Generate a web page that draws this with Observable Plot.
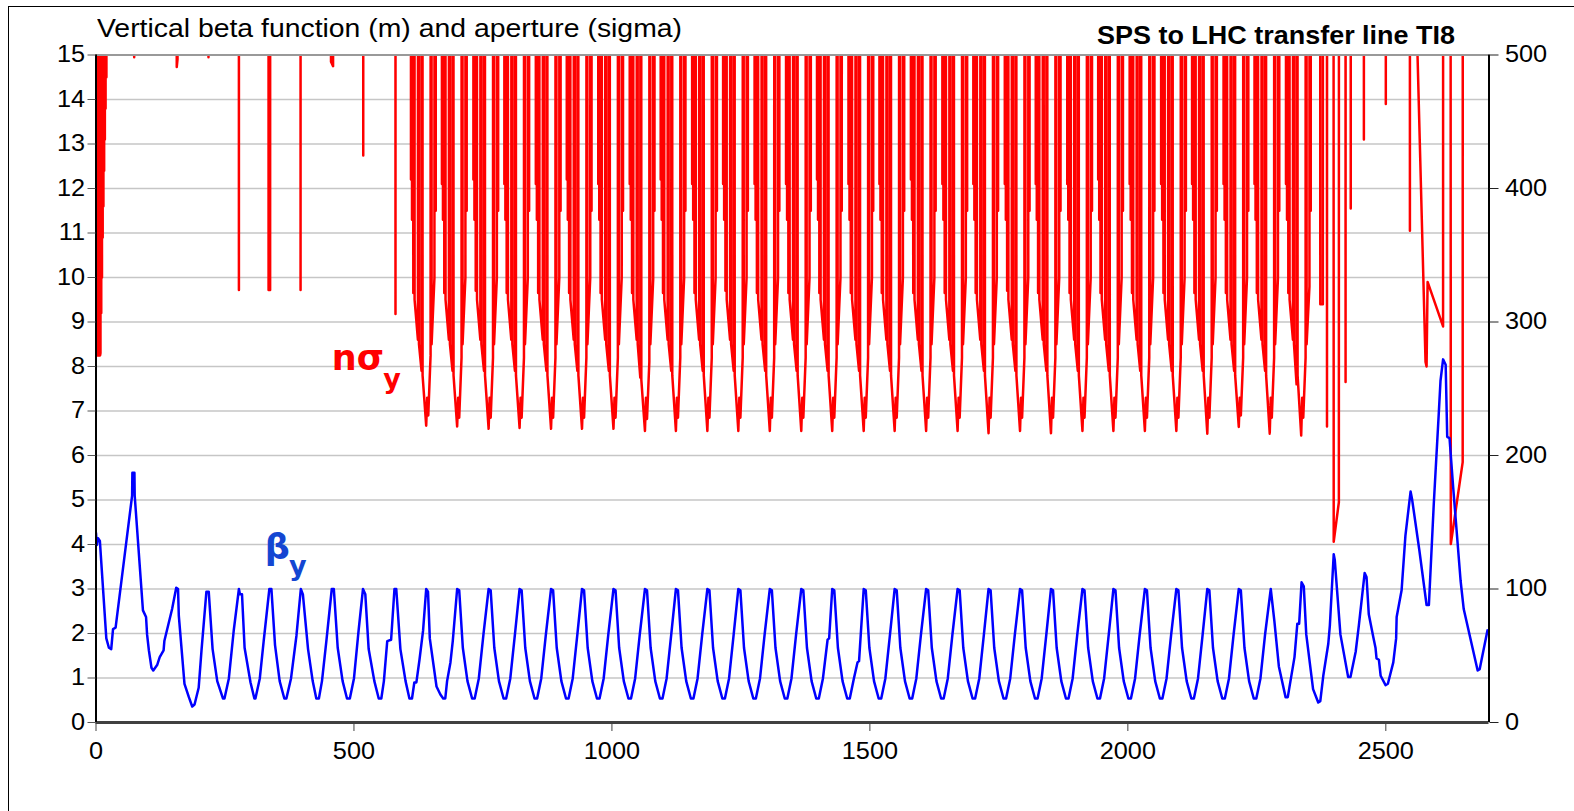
<!DOCTYPE html>
<html><head><meta charset="utf-8">
<script src="https://cdn.jsdelivr.net/npm/d3@7"></script>
<script src="https://cdn.jsdelivr.net/npm/@observablehq/plot@0.6"></script>
<style>
html,body{margin:0;padding:0;background:#fff;overflow:hidden;}
#wrap{position:relative;width:1574px;height:811px;overflow:hidden;font-family:"Liberation Sans",Arial,sans-serif;background:#fff;}
#frame{position:absolute;left:8px;top:6px;width:1700px;height:900px;border:1.5px solid #000;box-sizing:border-box;pointer-events:none;z-index:3;}
#chart{position:absolute;left:0;top:44px;z-index:1;}
.ttl{position:absolute;white-space:nowrap;line-height:25px;font-size:25px;transform-origin:0 50%;z-index:2;color:#000;}
#title{left:97px;top:16px;}
#subtitle{left:1097px;top:23px;font-weight:bold;}
</style>
</head><body>
<div id="wrap">
  <div id="chart"></div>
  <div id="title" class="ttl">Vertical beta function (m) and aperture (sigma)</div>
  <div id="subtitle" class="ttl">SPS to LHC transfer line TI8</div>
  <div id="frame"></div>
</div>
<script>
// ---------- data ----------
const xTicks = [0, 500, 1000, 1500, 2000, 2500];
const sigmaTicks = [0,1,2,3,4,5,6,7,8,9,10,11,12,13,14,15];
const betaTicks = [0, 100, 200, 300, 400, 500];
const gridValues = [1,2,3,4,5,6,7,8,9,10,11,12,13,14];
const sigmaMax = 15, betaMax = 500;

// vertical beta function [s (m), beta_y (m)]
const betaY = [
[0,142],[1.5,133],[4,138],[7.5,136],[20,63],[25,56],[29.5,55],[33,70],[38,71],[70,170],[70.5,187],[74.5,187],[75,170],[91,84],[97,79],[99,66],[102.5,54],[107.5,41],[111,39],[118.5,43],[123.5,49],[131,54],[132.5,61],[147.5,85],[155.5,101],[159,100],[160.5,80],[171.5,29],[180,19],[186.5,12],[191,13.5],[199,26],[204.5,54],[214,98],[218.5,98],[226,55],[235,31],[246,18],[249,18],[257.5,33],[267,69],[277,100],[279,96],[283,96],[288,56],[299.5,30],[307,18],[309,18],[317.5,33],[325,61],[336,100],[340,100],[347,58],[356,31],[365,18],[369,18],[378,33],[388.5,65],[397,100],[401,96],[411,55],[420,31],[427,18],[432,18],[438,31],[446.5,61],[457,100],[461,100],[468.5,56],[478,31],[486.5,18],[492,18],[500,33],[509,69],[517.5,100],[522,96],[528.5,55],[539.5,31],[548,18],[553,18],[558,31],[564.5,61],[572,62],[578.5,100],[582,100],[590,55],[600,31],[607.5,18],[612.5,18],[617,30],[621,30],[627,47],[634,69],[640,100],[643.5,98],[647,63],[660,27],[667.5,21],[673,18],[677,18],[680.5,31],[687,45],[691.5,61],
[700,100],[704,99],[711,56],[720,31],[729,18],[734,18],[742,33],[751,66],
[761,100],[765,99],[772,56],[781,31],[790,18],[795,18],[803,33],[812,66],
[821,100],[825,99],[832,56],[841,31],[850,18],[855,18],[863,33],[872,66],
[882,100],[886,99],[893,56],[902,31],[911,18],[916,18],[924,33],[933,66],
[942,100],[946,99],[953,56],[962,31],[971,18],[976,18],[984,33],[993,66],
[1003,100],[1007,99],[1014,56],[1023,31],[1032,18],[1037,18],[1045,33],[1054,66],
[1064,100],[1068,99],[1075,56],[1084,31],[1093,18],[1098,18],[1106,33],[1115,66],
[1124,100],[1128,99],[1135,56],[1144,31],[1153,18],[1158,18],[1166,33],[1175,66],
[1185,100],[1189,99],[1196,56],[1205,31],[1214,18],[1219,18],[1227,33],[1236,66],
[1245,100],[1249,99],[1256,56],[1265,31],[1274,18],[1279,18],[1287,33],[1296,66],
[1306,100],[1310,99],[1317,56],[1326,31],[1335,18],[1340,18],[1348,33],[1357,66],
[1367,100],[1371,99],[1378,56],[1387,31],[1396,18],[1401,18],[1409,33],[1418,62],[1421,63],
[1427,100],[1431,99],[1438,56],[1447,31],[1456,18],[1461,18],[1469,33],[1476,45],[1479,46],
[1488,100],[1492,99],[1499,56],[1508,31],[1517,18],[1522,18],[1530,33],[1539,66],
[1548,100],[1552,99],[1559,56],[1568,31],[1577,18],[1582,18],[1590,33],[1599,66],
[1609,100],[1613,99],[1620,56],[1629,31],[1638,18],[1643,18],[1651,33],[1660,66],
[1670,100],[1674,99],[1681,56],[1690,31],[1699,18],[1704,18],[1712,33],[1721,66],
[1730,100],[1734,99],[1741,56],[1750,31],[1759,18],[1764,18],[1772,33],[1781,66],
[1791,100],[1795,99],[1802,56],[1811,31],[1820,18],[1825,18],[1833,33],[1842,66],
[1851,100],[1855,99],[1862,56],[1871,31],[1880,18],[1885,18],[1893,33],[1902,66],
[1912,100],[1916,99],[1923,56],[1932,31],[1941,18],[1946,18],[1954,33],[1963,66],
[1972,100],[1976,99],[1983,56],[1992,31],[2001,18],[2006,18],[2014,33],[2023,66],
[2033,100],[2037,99],[2044,56],[2053,31],[2062,18],[2067,18],[2075,33],[2084,66],
[2094,100],[2098,99],[2105,56],[2114,31],[2123,18],[2128,18],[2136,33],[2145,66],
[2154,100],[2158,99],[2165,56],[2174,31],[2183,18],[2188,18],[2196,33],[2205,66],
[2215,100],[2219,99],[2226,56],[2235,31],[2244,18],[2249,18],[2257,33],[2266,66],
[2277,100],[2284,76],[2292.7,42],[2305.7,19],[2310,19],[2323,49],[2328.5,74],[2332,74],[2336.7,105],[2341,102],[2345.8,66],[2359,25],[2369,15],[2373,16],[2378.8,35],[2388.5,59],[2391.6,73],[2399,126],[2401,122],[2412,66],[2427,34],[2431.5,34],[2441.6,53],[2447.8,73],[2459,112],[2462.6,109],[2467,81],[2475.7,64],[2480,56],[2482,48],[2486.6,47],[2490,35],[2499.5,28],[2504,29],[2514.5,45],[2520,63],[2521,79],[2530.6,99],[2538,140],[2548,173],[2551,167],[2565,129],[2579,88],[2583.5,88],[2593,164],[2603,234],[2606,256],[2611,272],[2616,268],[2619,214],[2623.5,213],[2630.6,176],[2645,106],[2651,85],[2678,39],[2682,40],[2697,69]
];

// vertical aperture in sigma [s (m), n_sigma]; 99 = open drift (off scale)
const apertureY = [
[0,99],[0.5,8.25],[1.2,99],[2,8.25],[2.7,99],[3.5,8.25],[4.2,99],[5,8.25],[5.7,99],[6.5,8.25],[7.2,99],[8,8.25],[8.7,8.3],[9.4,99],[10.2,9.2],[10.9,99],[11.6,10.0],[12.3,99],[13,10.9],[13.7,99],[14.4,11.6],[15.1,99],[15.8,12.4],[16.5,99],[17.2,13.1],[17.9,99],[18.6,13.8],[19.3,99],[20.2,14.5],[21,99],
[73.5,99],[74,14.95],[74.5,99],[155,99],[156.5,14.73],[158,14.9],[159,99],[217.5,99],[218,14.95],[218.5,99],
[276.5,99],[277,9.72],[277.5,99],[333.5,99],[334.5,9.72],[337.5,9.72],[338.5,99],[396,99],[396.5,9.72],[397,99],
[454.5,99],[455.5,14.85],[459.5,14.75],[460,99],[517.5,99],[518,12.74],[518.5,99],[580,99],[580.5,9.18],[581,99],
[610,99],[610.5,12.2],[611.5,99],[612.5,11.3],[613.5,99],[615,9.65],[616.5,99],[617.5,9.5],[624,8.6],[625,99],[626,8.5],[631,7.9],[632,99],[633,7.8],[640,6.67],[642,7.3],[644,6.9],[648.5,8.25],[649.5,99],[650.5,8.5],[656,10],[657,99],[658.5,11.5],[659.5,99],
[670,99],[670.5,12.1],[671.5,99],[672.5,11.3],[673.5,99],[675,9.65],[676.5,99],[677.5,9.5],[684,8.6],[685,99],[686,8.5],[691,7.9],[692,99],[693,7.8],[700,6.65],[702,7.3],[704,6.85],[708.5,8.2],[709.5,99],[710.5,8.5],[716,10],[717,99],[718.5,11.5],[719.5,99],
[731,99],[731.5,12.2],[732.5,99],[733.5,11.3],[734.5,99],[736,9.7],[737.5,99],[738.5,9.5],[745,8.6],[746,99],[747,8.5],[752,7.9],[753,99],[754,7.8],[761,6.6],[763,7.3],[765,6.85],[769.5,8.2],[770.5,99],[771.5,8.5],[777,10],[778,99],[779.5,11.5],[780.5,99],
[791,99],[791.5,12.1],[792.5,99],[793.5,11.3],[794.5,99],[796,9.65],[797.5,99],[798.5,9.5],[805,8.6],[806,99],[807,8.5],[812,7.9],[813,99],[814,7.8],[821,6.62],[823,7.3],[825,6.85],[829.5,8.2],[830.5,99],[831.5,8.5],[837,10],[838,99],[839.5,11.5],[840.5,99],
[852,99],[852.5,12.1],[853.5,99],[854.5,11.3],[855.5,99],[857,9.65],[858.5,99],[859.5,9.5],[866,8.6],[867,99],[868,8.5],[873,7.9],[874,99],[875,7.8],[882,6.6],[884,7.3],[886,6.85],[890.5,8.2],[891.5,99],[892.5,8.5],[898,10],[899,99],[900.5,11.5],[901.5,99],
[912,99],[912.5,12.2],[913.5,99],[914.5,11.3],[915.5,99],[917,9.65],[918.5,99],[919.5,9.5],[926,8.6],[927,99],[928,8.5],[933,7.9],[934,99],[935,7.8],[942,6.6],[944,7.3],[946,6.85],[950.5,8.2],[951.5,99],[952.5,8.5],[958,10],[959,99],[960.5,11.5],[961.5,99],
[973,99],[973.5,12.1],[974.5,99],[975.5,11.3],[976.5,99],[978,9.65],[979.5,99],[980.5,9.5],[987,8.6],[988,99],[989,8.5],[994,7.9],[995,99],[996,7.8],[1003,6.6],[1005,7.3],[1007,6.85],[1011.5,8.2],[1012.5,99],[1013.5,8.5],[1019,10],[1020,99],[1021.5,11.5],[1022.5,99],
[1034,99],[1034.5,12.1],[1035.5,99],[1036.5,11.3],[1037.5,99],[1039,9.65],[1040.5,99],[1041.5,9.5],[1048,8.6],[1049,99],[1050,8.5],[1055,7.75],[1056,99],[1057,7.7],[1064,6.55],[1066,7.3],[1068,6.82],[1072.5,8.1],[1073.5,99],[1074.5,8.5],[1080,9.97],[1081,99],[1082.5,11.5],[1083.5,99],
[1094,99],[1094.5,12.2],[1095.5,99],[1096.5,11.3],[1097.5,99],[1099,9.65],[1100.5,99],[1101.5,9.5],[1108,8.6],[1109,99],[1110,8.5],[1115,7.9],[1116,99],[1117,7.8],[1124,6.55],[1126,7.3],[1128,6.85],[1132.5,8.2],[1133.5,99],[1134.5,8.5],[1140,10],[1141,99],[1142.5,11.5],[1143.5,99],
[1155,99],[1155.5,12.1],[1156.5,99],[1157.5,11.3],[1158.5,99],[1160,9.65],[1161.5,99],[1162.5,9.5],[1169,8.6],[1170,99],[1171,8.5],[1176,7.9],[1177,99],[1178,7.8],[1185,6.55],[1187,7.3],[1189,6.85],[1193.5,8.2],[1194.5,99],[1195.5,8.5],[1201,10],[1202,99],[1203.5,11.5],[1204.5,99],
[1215,99],[1215.5,12.1],[1216.5,99],[1217.5,11.3],[1218.5,99],[1220,9.7],[1221.5,99],[1222.5,9.5],[1229,8.6],[1230,99],[1231,8.5],[1236,7.9],[1237,99],[1238,7.8],[1245,6.55],[1247,7.3],[1249,6.85],[1253.5,8.2],[1254.5,99],[1255.5,8.5],[1261,10],[1262,99],[1263.5,11.5],[1264.5,99],
[1276,99],[1276.5,12.1],[1277.5,99],[1278.5,11.3],[1279.5,99],[1281,9.65],[1282.5,99],[1283.5,9.5],[1290,8.6],[1291,99],[1292,8.5],[1297,7.9],[1298,99],[1299,7.8],[1306,6.55],[1308,7.3],[1310,6.85],[1314.5,8.2],[1315.5,99],[1316.5,8.5],[1322,10],[1323,99],[1324.5,11.5],[1325.5,99],
[1337,99],[1337.5,12.1],[1338.5,99],[1339.5,11.3],[1340.5,99],[1342,9.65],[1343.5,99],[1344.5,9.5],[1351,8.6],[1352,99],[1353,8.5],[1358,7.9],[1359,99],[1360,7.8],[1367,6.55],[1369,7.3],[1371,6.85],[1375.5,8.2],[1376.5,99],[1377.5,8.5],[1383,10],[1384,99],[1385.5,11.5],[1386.5,99],
[1397,99],[1397.5,12.2],[1398.5,99],[1399.5,11.3],[1400.5,99],[1402,9.65],[1403.5,99],[1404.5,9.5],[1411,8.6],[1412,99],[1413,8.5],[1418,7.9],[1419,99],[1420,7.8],[1427,6.55],[1429,7.3],[1431,6.85],[1435.5,8.2],[1436.5,99],[1437.5,8.5],[1443,10],[1444,99],[1445.5,11.5],[1446.5,99],
[1458,99],[1458.5,12.1],[1459.5,99],[1460.5,11.3],[1461.5,99],[1463,9.65],[1464.5,99],[1465.5,9.5],[1472,8.6],[1473,99],[1474,8.5],[1479,7.9],[1480,99],[1481,7.8],[1488,6.55],[1490,7.3],[1492,6.85],[1496.5,8.2],[1497.5,99],[1498.5,8.5],[1504,10],[1505,99],[1506.5,11.5],[1507.5,99],
[1518,99],[1518.5,12.1],[1519.5,99],[1520.5,11.3],[1521.5,99],[1523,9.65],[1524.5,99],[1525.5,9.5],[1532,8.6],[1533,99],[1534,8.5],[1539,7.9],[1540,99],[1541,7.8],[1548,6.55],[1550,7.3],[1552,6.85],[1556.5,8.2],[1557.5,99],[1558.5,8.5],[1564,10],[1565,99],[1566.5,11.5],[1567.5,99],
[1579,99],[1579.5,12.2],[1580.5,99],[1581.5,11.3],[1582.5,99],[1584,9.65],[1585.5,99],[1586.5,9.5],[1593,8.6],[1594,99],[1595,8.5],[1600,7.9],[1601,99],[1602,7.8],[1609,6.55],[1611,7.3],[1613,6.85],[1617.5,8.2],[1618.5,99],[1619.5,8.5],[1625,10],[1626,99],[1627.5,11.5],[1628.5,99],
[1640,99],[1640.5,12.1],[1641.5,99],[1642.5,11.3],[1643.5,99],[1645,9.65],[1646.5,99],[1647.5,9.5],[1654,8.6],[1655,99],[1656,8.5],[1661,7.9],[1662,99],[1663,7.8],[1670,6.55],[1672,7.3],[1674,6.85],[1678.5,8.2],[1679.5,99],[1680.5,8.5],[1686,10],[1687,99],[1688.5,11.5],[1689.5,99],
[1700,99],[1700.5,12.1],[1701.5,99],[1702.5,11.3],[1703.5,99],[1705,9.65],[1706.5,99],[1707.5,9.5],[1714,8.6],[1715,99],[1716,8.5],[1721,7.9],[1722,99],[1723,7.8],[1730,6.5],[1732,7.3],[1734,6.85],[1738.5,8.2],[1739.5,99],[1740.5,8.5],[1746,10],[1747,99],[1748.5,11.5],[1749.5,99],
[1761,99],[1761.5,12.1],[1762.5,99],[1763.5,11.3],[1764.5,99],[1766,9.7],[1767.5,99],[1768.5,9.5],[1775,8.6],[1776,99],[1777,8.5],[1782,7.9],[1783,99],[1784,7.8],[1791,6.55],[1793,7.3],[1795,6.85],[1799.5,8.2],[1800.5,99],[1801.5,8.5],[1807,10],[1808,99],[1809.5,11.5],[1810.5,99],
[1821,99],[1821.5,12.1],[1822.5,99],[1823.5,11.3],[1824.5,99],[1826,9.65],[1827.5,99],[1828.5,9.5],[1835,8.6],[1836,99],[1837,8.5],[1842,7.9],[1843,99],[1844,7.8],[1851,6.5],[1853,7.3],[1855,6.85],[1859.5,8.2],[1860.5,99],[1861.5,8.5],[1867,10],[1868,99],[1869.5,11.5],[1870.5,99],
[1882,99],[1882.5,12.1],[1883.5,99],[1884.5,11.3],[1885.5,99],[1887,9.65],[1888.5,99],[1889.5,9.5],[1896,8.6],[1897,99],[1898,8.5],[1903,7.9],[1904,99],[1905,7.8],[1912,6.55],[1914,7.3],[1916,6.85],[1920.5,8.2],[1921.5,99],[1922.5,8.5],[1928,10],[1929,99],[1930.5,11.5],[1931.5,99],
[1942,99],[1942.5,12.2],[1943.5,99],[1944.5,11.3],[1945.5,99],[1947,9.65],[1948.5,99],[1949.5,9.5],[1956,8.6],[1957,99],[1958,8.5],[1963,7.9],[1964,99],[1965,7.8],[1972,6.55],[1974,7.3],[1976,6.85],[1980.5,8.2],[1981.5,99],[1982.5,8.5],[1988,10],[1989,99],[1990.5,11.5],[1991.5,99],
[2003,99],[2003.5,12.1],[2004.5,99],[2005.5,11.3],[2006.5,99],[2008,9.65],[2009.5,99],[2010.5,9.5],[2017,8.6],[2018,99],[2019,8.5],[2024,7.9],[2025,99],[2026,7.8],[2033,6.55],[2035,7.3],[2037,6.85],[2041.5,8.2],[2042.5,99],[2043.5,8.5],[2049,10],[2050,99],[2051.5,11.5],[2052.5,99],
[2064,99],[2064.5,12.1],[2065.5,99],[2066.5,11.3],[2067.5,99],[2069,9.65],[2070.5,99],[2071.5,9.5],[2078,8.6],[2079,99],[2080,8.5],[2085,7.9],[2086,99],[2087,7.8],[2094,6.55],[2096,7.3],[2098,6.85],[2102.5,8.2],[2103.5,99],[2104.5,8.5],[2110,10],[2111,99],[2112.5,11.5],[2113.5,99],
[2124,99],[2124.5,12.1],[2125.5,99],[2126.5,11.3],[2127.5,99],[2129,9.65],[2130.5,99],[2131.5,9.5],[2138,8.6],[2139,99],[2140,8.5],[2145,7.9],[2146,99],[2147,7.8],[2154,6.49],[2156,7.3],[2158,6.85],[2162.5,8.2],[2163.5,99],[2164.5,8.5],[2170,10],[2171,99],[2172.5,11.5],[2173.5,99],
[2185,99],[2185.5,12.1],[2186.5,99],[2187.5,11.3],[2188.5,99],[2190,9.65],[2191.5,99],[2192.5,9.5],[2199,8.6],[2200,99],[2201,8.5],[2206,7.9],[2207,99],[2208,7.8],[2215,6.64],[2217,7.3],[2219,6.9],[2223.5,8.2],[2224.5,99],[2225.5,8.5],[2231,10],[2232,99],[2233.5,11.5],[2234.5,99],
[2245,99],[2245.5,12.1],[2246.5,99],[2247.5,11.3],[2248.5,99],[2250,9.65],[2251.5,99],[2252.5,9.5],[2259,8.6],[2260,99],[2261,8.5],[2266,7.9],[2267,99],[2268,7.8],[2275,6.49],[2277,7.3],[2279,6.85],[2283.5,8.2],[2284.5,99],[2285.5,8.5],[2291,10],[2292,99],[2293.5,11.5],[2294.5,99],
[2306,99],[2306.5,12.1],[2307.5,99],[2308.5,11.3],[2309.5,99],[2311,9.65],[2312.5,99],[2313.5,9.5],[2320,8.6],[2321,99],[2322,8.5],[2327,7.6],[2328,99],[2329,7.8],[2336,6.45],[2338,7.3],[2340,6.85],[2344.5,8.2],[2345.5,99],[2346.5,8.5],[2352,9.8],[2353,99],[2354.5,11.5],[2355.5,99],
[2372,99],[2373,9.4],[2378,9.4],[2379,99],[2385,99],[2386,6.65],[2387,99],[2397,99],[2399,4.06],[2409,4.95],[2410,99],[2421,99],[2422,7.65],[2423,99],[2431,99],[2432,11.55],[2433,99],
[2457,99],[2457.5,13.1],[2458,99],[2499.5,99],[2500,13.9],[2500.5,99],[2546,99],[2546.7,11.05],[2547.3,99],
[2560,99],[2561,15.2],[2577,8.1],[2579,8.0],[2581,9.9],[2611,8.9],[2611.5,99],[2623,99],[2626,4.01],[2649,5.85],[2650,99],[2700,99]
];

// in-plot series labels (data coordinates: s in m, value in sigma units)
const seriesLabels = [
  {s: 457, v: 8.18, text: "nσ", color: "#ff0000"},
  {s: 327, v: 3.92, text: "β", color: "#1446d2"}
];
const subscriptLabels = [
  {s: 557, v: 7.72, text: "y", color: "#ff0000"},
  {s: 374, v: 3.52, text: "y", color: "#1446d2"}
];

// ---------- chart ----------
const toSigma = b => b * sigmaMax / betaMax;

const chart = Plot.plot({
  width: 1574,
  height: 767,
  marginTop: 10.5,
  marginBottom: 89,
  marginLeft: 95.5,
  marginRight: 85.5,
  style: {fontFamily: "'Liberation Sans', Arial, sans-serif", fontSize: "23px", background: "transparent", color: "#000", overflow: "visible"},
  x: {domain: [0, 2700]},
  y: {domain: [0, sigmaMax]},
  marks: [
    Plot.gridY(gridValues, {stroke: "#c6c6c6", strokeOpacity: 1, strokeWidth: 1.5}),
    Plot.line(apertureY, {x: d => d[0], y: d => d[1], stroke: "#ff0000", strokeWidth: 2.5, clip: true}),
    Plot.line(betaY, {x: d => d[0], y: d => toSigma(d[1]), stroke: "#0000ff", strokeWidth: 2.5, clip: true}),
    Plot.ruleY([sigmaMax], {stroke: "#999999", strokeWidth: 2}),
    Plot.ruleY([0], {stroke: "#404040", strokeWidth: 3}),
    Plot.ruleX([0], {stroke: "#000", strokeWidth: 2}),
    Plot.ruleX([2700], {stroke: "#000", strokeWidth: 2}),
    Plot.axisX({ticks: xTicks, tickSize: 9, tickPadding: 11, label: null, fontSize: 23, stroke: "#404040", tickFormat: d => String(d)}),
    Plot.axisY({ticks: sigmaTicks, tickSize: 8, tickPadding: 3, label: null, fontSize: 23, stroke: "#555"}),
    Plot.axisY({anchor: "right", ticks: betaTicks.map(toSigma), tickFormat: d => String(Math.round(d * betaMax / sigmaMax)), tickSize: 9, tickPadding: 7, label: null, fontSize: 23, stroke: "#222"}),
    Plot.text(seriesLabels, {x: "s", y: "v", text: "text", fill: "color", fontSize: 35, fontWeight: "bold", fontFamily: "DejaVu Sans", textAnchor: "start"}),
    Plot.text(subscriptLabels, {x: "s", y: "v", text: "text", fill: "color", fontSize: 27, fontWeight: "bold", fontFamily: "DejaVu Sans", textAnchor: "start"})
  ]
});
document.getElementById("chart").appendChild(chart);

// widen tick labels slightly (reference glyphs are horizontally stretched)
d3.select(chart).selectAll("g[aria-label$='tick label'] text").each(function() {
  const t = this.getAttribute("transform") || "";
  this.setAttribute("transform", t + " scale(1.1,1)");
});

// stretch the titles to the reference widths
function fit(id, width) {
  const el = document.getElementById(id);
  const w = el.getBoundingClientRect().width;
  el.style.transform = "scaleX(" + (width / w) + ")";
}
fit("title", 585);
fit("subtitle", 358);
</script>
</body></html>
